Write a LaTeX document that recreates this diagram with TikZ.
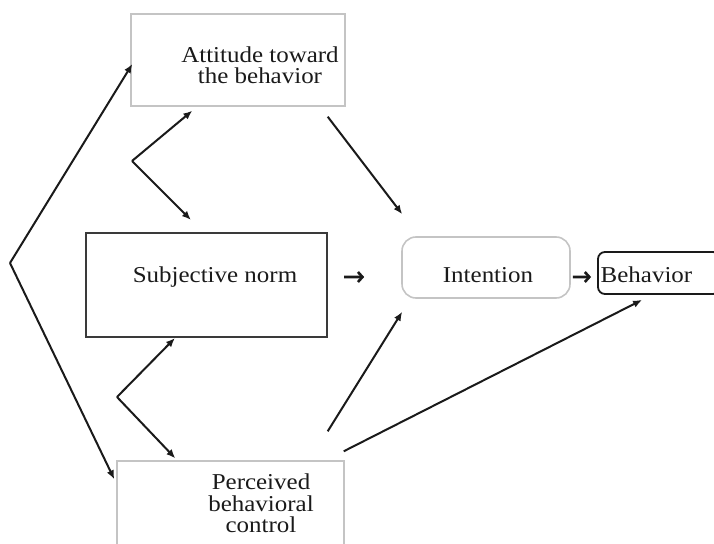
\documentclass[tikz,border=0pt]{standalone}
\usepackage{fontspec}
\usetikzlibrary{arrows.meta,calc}
\newfontfamily\lblfont[FakeStretch=1.1]{Liberation Serif}
\definecolor{lightedge}{HTML}{C4C4C4}
\definecolor{darkedge}{HTML}{3A3A3A}
\definecolor{ink}{HTML}{1A1A1A}
\begin{document}
\begin{tikzpicture}[x=1bp,y=-1bp,
  lightbox/.style={draw=lightedge,line width=1.4bp,inner sep=0pt},
  darkbox/.style={draw=darkedge,line width=2.2bp,inner sep=0pt},
  lbl/.style={font=\lblfont\fontsize{22.7bp}{21.5bp}\selectfont,text=ink,align=center,inner sep=0pt},
  arr/.style={draw=ink,line width=2bp,-{Latex[length=9bp,width=7.5bp]}},
  shortarr/.style={draw=ink,line width=2.6bp,-{Straight Barb[length=4.5bp,width=10bp]}}]
\useasboundingbox (0,0) rectangle (714,544);
\clip (0,0) rectangle (714,544);

% boxes
\node[lightbox,minimum width=214bp,minimum height=92bp] (att) at (238,60) {};
\node[darkbox,minimum width=241bp,minimum height=104bp] (sn) at (206.5,285) {};
\node[lightbox,minimum width=227bp,minimum height=109bp] (pbc) at (230.5,515.5) {};
\node[draw=lightedge,line width=1.6bp,rounded corners=14bp,inner sep=0pt,
      minimum width=168bp,minimum height=61bp] (int) at (486,267.5) {};
\node[draw=ink,line width=1.8bp,rounded corners=7bp,inner sep=0pt,
      minimum width=122bp,minimum height=42bp] (beh) at (659,273) {};

% labels
\node[lbl] (atttxt) at (260,65) {Attitude toward\\the behavior};
\node[lbl] (sntxt) at (215,277.5) {Subjective norm};
\node[lbl] (inttxt) at (488,275) {Intention};
\node[lbl] (behtxt) at (646.5,275) {Behavior};
\node[lbl] (pbctxt) at (261,503.5) {Perceived\\behavioral\\control};

% fan from the left towards attitude and perceived control
\coordinate (fan) at (10,263);
\draw[arr] (fan) -- ([shift={(2,4)}]att.west);
\draw[arr] (fan) -- ([shift={(-2,19)}]pbc.north west);

% correlations between the three determinants
\coordinate (elbowA) at (132,161);
\draw[arr] (elbowA) -- ([shift={(62,4)}]att.south west);
\draw[arr] (elbowA) -- ([shift={(106,-12)}]sn.north west);
\coordinate (elbowB) at (117,397);
\draw[arr] (elbowB) -- ([shift={(90,0)}]sn.south west);
\draw[arr] (elbowB) -- ([shift={(59,-2)}]pbc.north west);

% paths to intention and behavior
\draw[arr] ([shift={(-18,10)}]att.south east) -- ([shift={(1,-22)}]int.north west);
\draw[arr] ([shift={(-17,-29)}]pbc.north east) -- ([shift={(1,13)}]int.south west);
\draw[arr] ([shift={(-1,-9)}]pbc.north east) -- ([shift={(45,5)}]beh.south west);
\draw[shortarr] ([shift={(16,-8)}]sn.east) -- ([shift={(-37,9.5)}]int.west);
\draw[shortarr] ([shift={(2,9.5)}]int.east) -- ([shift={(-6,4)}]beh.west);
\end{tikzpicture}
\end{document}
